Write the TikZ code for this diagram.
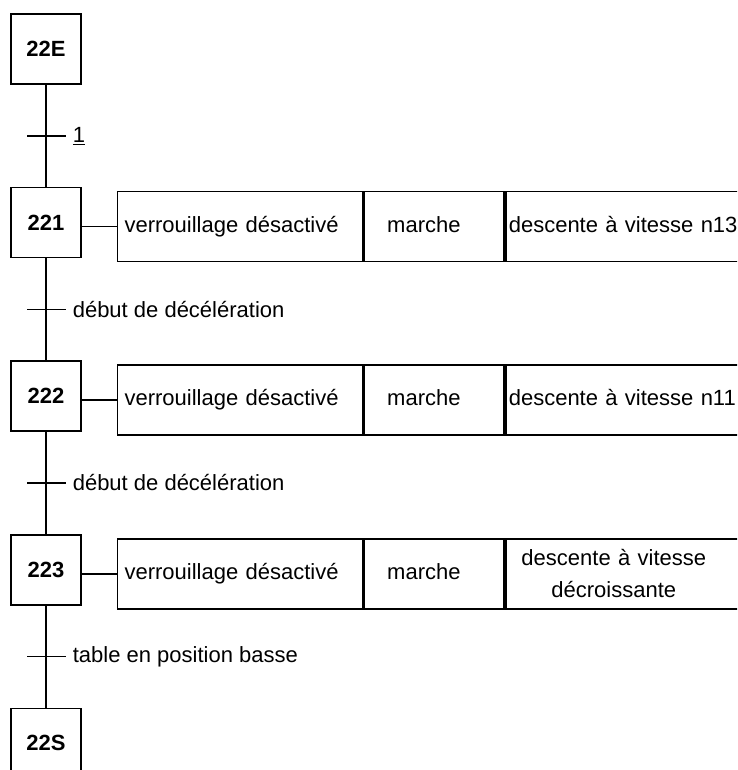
\documentclass[tikz,border=0pt]{standalone}
\usepackage{fontspec}
\setmainfont{Liberation Sans}
\usetikzlibrary{positioning,calc}

\tikzset{
  etape/.style = {draw, rectangle, minimum size = 70pt, inner sep = 0pt, font = \fontsize{22}{26}\selectfont\bfseries},
  cellule/.style = {draw, rectangle, minimum height = 70pt, inner sep = 0pt, text height = 16pt, text depth = 5pt, align = left},
  sortie/.style = {cellule, text width = 239pt, inner xsep = 3pt},
  recept/.style = {anchor = west, inner sep = 0pt}
}

\begin{document}
\begin{tikzpicture}[
    line width = 1.6pt,
    font = \fontsize{22}{26}\selectfont,
    node distance = 102pt
  ]
  \clip (0,0) rectangle (737pt,-770pt);
  % etapes du grafcet
  \node[etape] (E) at (46pt,-49pt) {22E};
  \node[etape, below = of E]  (S1) {221};
  \node[etape, below = of S1] (S2) {222};
  \node[etape, below = of S2] (S3) {223};
  \node[etape, below = of S3] (S) {22S};

  % liaisons et receptivites
  \foreach \a/\b/\t/\r in {E/S1/t1/{\underline{1}},
                           S1/S2/t2/{début de décélération},
                           S2/S3/t3/{début de décélération},
                           S3/S/t4/{table en position basse}} {
    \draw (\a.south) -- (\b.north);
    \coordinate (\t) at ($(\a.south)!0.5!(\b.north)$);
    \draw ([xshift = -19pt]\t) -- ([xshift = 20pt]\t);
    \node[recept] (r\t) at ([xshift = 26pt]\t) {\r};
  }

  % actions
  \foreach \s in {S1, S2, S3} {
    \node[cellule, text width = 231pt, inner xsep = 7pt,
          right = 35pt of \s, yshift = -4pt] (A\s) {verrouillage désactivé};
    \node[cellule, text width = 94pt, inner xsep = 23pt, right = 0pt of A\s] (M\s) {marche};
    \draw (\s.east |- A\s.west) -- (A\s.west);
  }
  \node[sortie, right = 0pt of MS1] (DS1) {descente à vitesse n13};
  \node[sortie, right = 0pt of MS2] (DS2) {descente à vitesse n11};
  \node[sortie, text height = {}, text depth = {}, right = 0pt of MS3] (DS3)
    {\makebox[210pt]{descente à vitesse}\\[6pt]\makebox[210pt]{décroissante}};
\end{tikzpicture}
\end{document}
